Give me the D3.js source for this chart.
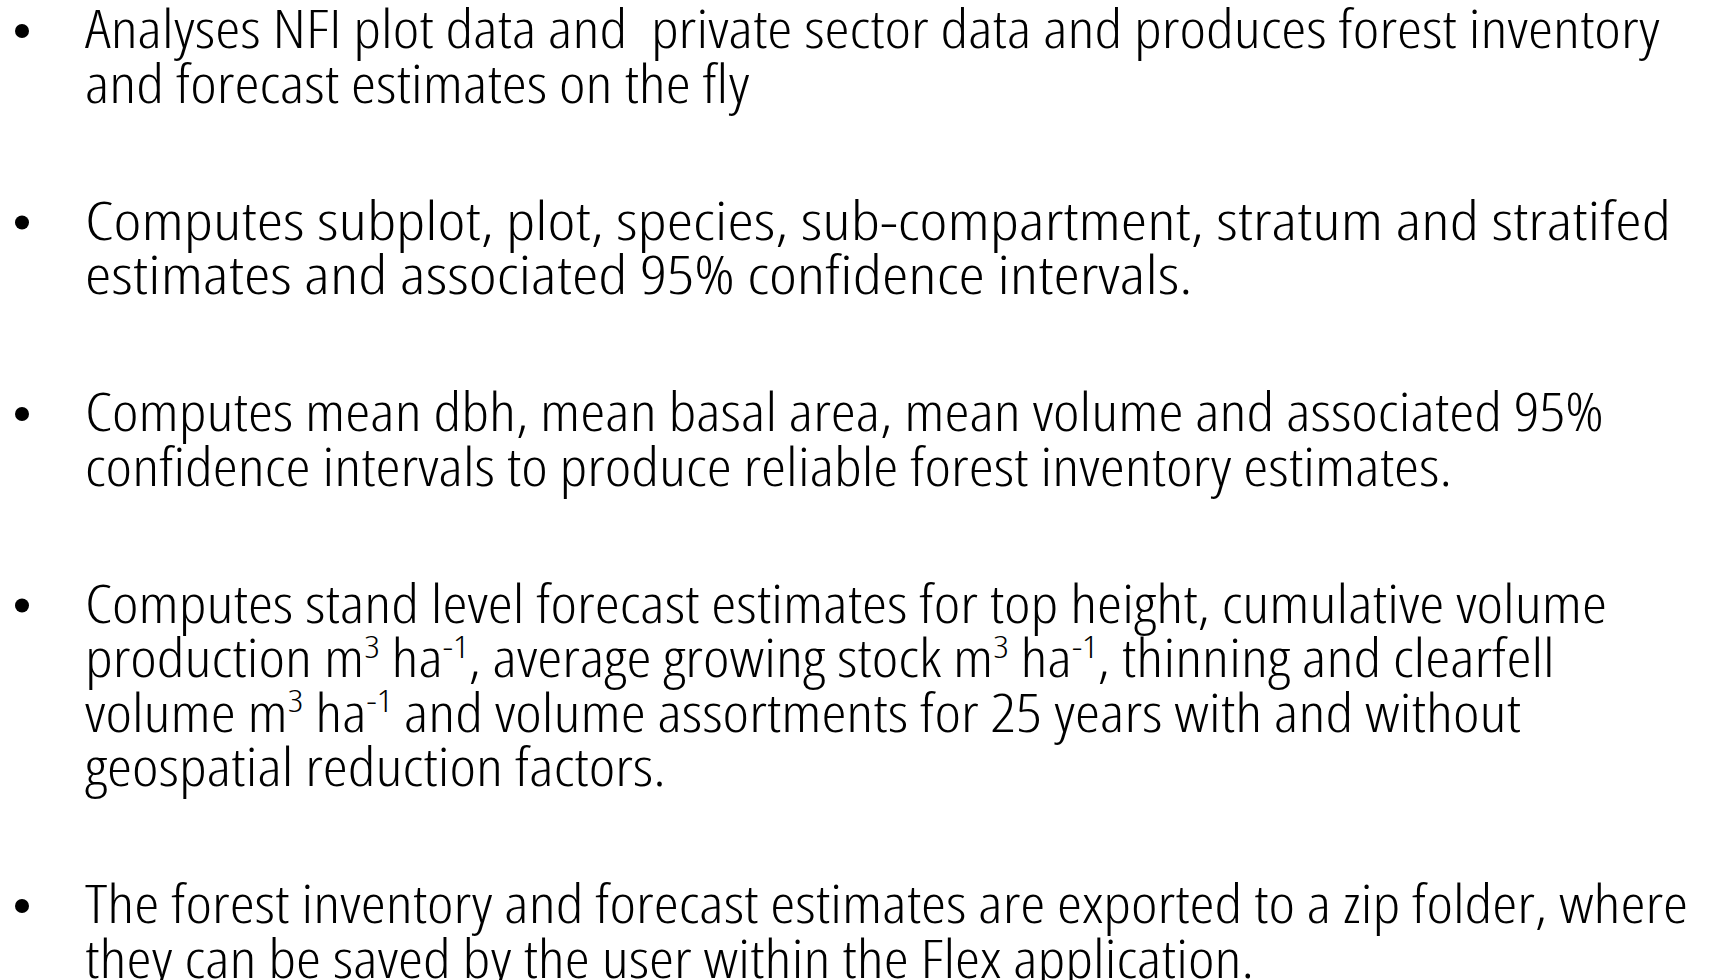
<!DOCTYPE html>
<html>
<head>
<meta charset="utf-8">
<script src="https://cdn.jsdelivr.net/npm/d3@7"></script>
<style>
  html, body { margin: 0; padding: 0; background: #ffffff; overflow: hidden; }
</style>
</head>
<body>
<svg id="slide" width="1709" height="980"></svg>
<script>
// ---- content (text only) ----
const bullet1 = [
  "Analyses NFI plot data and  private sector data and produces forest inventory",
  "and forecast estimates on the fly"
];
const bullet2 = [
  "Computes subplot, plot, species, sub-compartment, stratum and stratifed",
  "estimates and associated 95% confidence intervals."
];
const bullet3 = [
  "Computes mean dbh, mean basal area, mean volume and associated 95%",
  "confidence intervals to produce reliable forest inventory estimates."
];
const bullet4 = [
  "Computes stand level forecast estimates for top height, cumulative volume",
  "production m^{3} ha^{-1}, average growing stock m^{3} ha^{-1}, thinning and clearfell",
  "volume m^{3} ha^{-1} and volume assortments for 25 years with and without",
  "geospatial reduction factors."
];
const bullet5 = [
  "The forest inventory and forecast estimates are exported to a zip folder, where",
  "they can be saved by the user within the Flex application."
];
const bullets = [bullet1, bullet2, bullet3, bullet4, bullet5];

// ---- layout / style ----
const svg = d3.select("#slide");
const fontSize = 53;
const lineH = 54.5;
const sectionGap = 82.5;
const firstBaseline = 48;
const textX = 85;
const bulletX = 22;
const fontStretch = "75%";
const fontWeight = 300;
const condenseBySection = [1.195, 1.259, 1.195, 1.195, 1.195];

const rows = [];
bullets.forEach((b, si) => b.forEach((line, li) => rows.push({ si, li, line })));
rows.forEach((r, i) => { r.baseline = firstBaseline + i * lineH + r.si * sectionGap; });

function parse(line) {
  const parts = [];
  const re = /\^\{([^}]*)\}/g;
  let last = 0, m;
  while ((m = re.exec(line)) !== null) {
    if (m.index > last) parts.push({ t: line.slice(last, m.index), sup: false });
    parts.push({ t: m[1], sup: true });
    last = re.lastIndex;
  }
  if (last < line.length) parts.push({ t: line.slice(last), sup: false });
  return parts;
}

const g = svg.append("g");
const supShift = fontSize * 0.36;

const texts = g.selectAll("text.line")
  .data(rows)
  .join("text")
  .attr("class", "line")
  .attr("transform", d => `translate(${textX},${d.baseline}) scale(${condenseBySection[d.si]},1)`)
  .attr("font-family", "'Open Sans', 'Noto Sans', sans-serif")
  .attr("font-weight", fontWeight)
  .attr("font-size", fontSize)
  .style("font-stretch", fontStretch)
  .attr("fill", "#000")
  .attr("xml:space", "preserve")
  .style("white-space", "pre");

texts.each(function(d) {
  const t = d3.select(this);
  let pending = 0;
  parse(d.line).forEach(p => {
    const ts = t.append("tspan").text(p.t);
    if (p.sup) {
      ts.attr("font-size", fontSize * 0.6).attr("dy", -supShift + pending);
      pending = supShift;
    } else {
      if (pending) ts.attr("dy", pending);
      pending = 0;
    }
  });
});

g.selectAll("circle.bullet")
  .data(rows.filter(r => r.li === 0))
  .join("circle")
  .attr("class", "bullet")
  .attr("cx", bulletX)
  .attr("cy", d => d.baseline - 17)
  .attr("r", 7)
  .attr("fill", "#000");
</script>
</body>
</html>
